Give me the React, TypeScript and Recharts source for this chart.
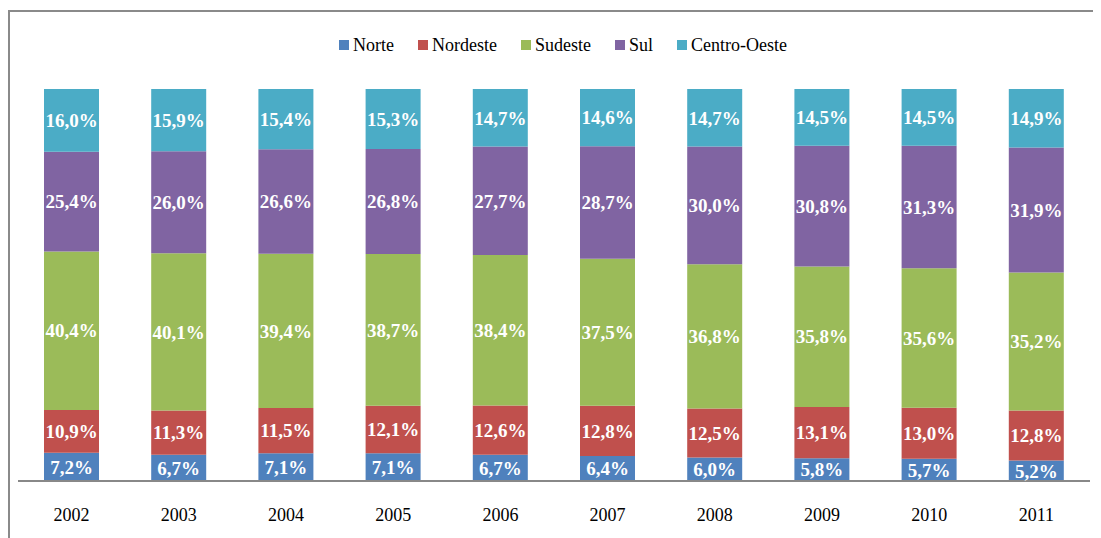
import { Bar, BarChart, LabelList, Legend, XAxis, YAxis } from "recharts";

const years = ["2002", "2003", "2004", "2005", "2006", "2007", "2008", "2009", "2010", "2011"];
const norte = [7.2, 6.7, 7.1, 7.1, 6.7, 6.4, 6.0, 5.8, 5.7, 5.2];
const nordeste = [10.9, 11.3, 11.5, 12.1, 12.6, 12.8, 12.5, 13.1, 13.0, 12.8];
const sudeste = [40.4, 40.1, 39.4, 38.7, 38.4, 37.5, 36.8, 35.8, 35.6, 35.2];
const sul = [25.4, 26.0, 26.6, 26.8, 27.7, 28.7, 30.0, 30.8, 31.3, 31.9];
const centroOeste = [16.0, 15.9, 15.4, 15.3, 14.7, 14.6, 14.7, 14.5, 14.5, 14.9];

const series = [
    { key: "Norte", color: "#4F81BD" },
    { key: "Nordeste", color: "#C0504D" },
    { key: "Sudeste", color: "#9BBB59" },
    { key: "Sul", color: "#8064A2" },
    { key: "Centro-Oeste", color: "#4BACC6" },
];

const data = years.map((year, i) => ({
    year,
    Norte: norte[i],
    Nordeste: nordeste[i],
    Sudeste: sudeste[i],
    Sul: sul[i],
    "Centro-Oeste": centroOeste[i],
}));

const FONT = "'Liberation Serif', 'DejaVu Serif', Times, serif";

const fmt = (v: any) => Number(v).toFixed(1).replace(".", ",") + "%";

// legenda no topo, estilo Excel
const CustomLegend = () => (
    <div style={{ height: 54, display: "flex", justifyContent: "center", gap: 24, paddingLeft: 18, fontFamily: FONT }}>
        {series.map((s) => (
            <div key={s.key} style={{ display: "flex", alignItems: "center", height: 20, gap: 4 }}>
                <div style={{ width: 10, height: 10, backgroundColor: s.color }} />
                <span style={{ fontSize: 18, color: "#000", fontFamily: FONT }}>{s.key}</span>
            </div>
        ))}
    </div>
);

export default function App() {
    return (
        <div
            style={{
                width: 1093,
                height: 528,
                marginTop: 2,
                borderLeft: "2px solid #8a8a8a",
                borderTop: "2px solid #8a8a8a",
                fontFamily: FONT,
                background: "#fff",
            }}
        >
            <BarChart
                width={1091}
                height={526}
                data={data}
                stackOffset="expand"
                barSize={55}
                margin={{ top: 23, right: 11, left: 8, bottom: 17 }}
                style={{ fontFamily: FONT }}
            >
                <Legend verticalAlign="top" align="center" content={<CustomLegend />} />
                <XAxis
                    dataKey="year"
                    height={40}
                    tickSize={0}
                    tickMargin={27}
                    axisLine={{ stroke: "#888", strokeWidth: 2 }}
                    tick={{ fill: "#000", fontSize: 18, fontFamily: FONT }}
                />
                <YAxis hide domain={[0, 1]} />
                {series.map((s) => (
                    <Bar key={s.key} dataKey={s.key} stackId="a" fill={s.color} isAnimationActive={false}>
                        <LabelList
                            dataKey={s.key}
                            position="center"
                            formatter={fmt}
                            fill="#fff"
                            fontFamily={FONT}
                            fontWeight="bold"
                            fontSize={19}
                        />
                    </Bar>
                ))}
            </BarChart>
        </div>
    );
}
